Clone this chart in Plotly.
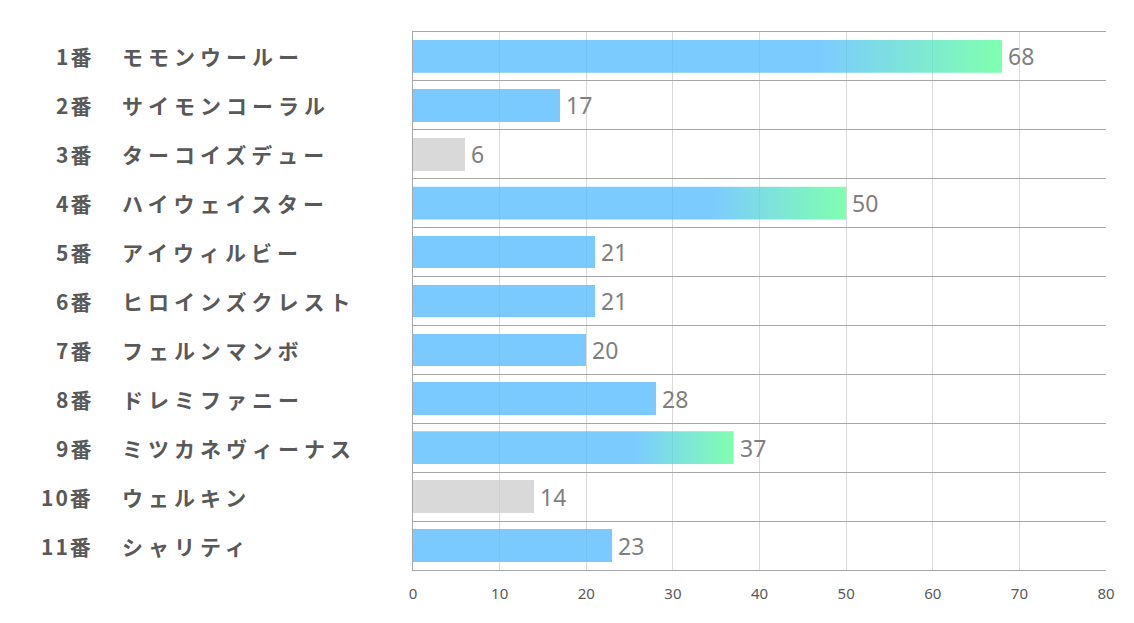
import plotly.graph_objects as go

numbers = ["1番", "2番", "3番", "4番", "5番", "6番", "7番", "8番", "9番", "10番", "11番"]
names = ["モモンウールー", "サイモンコーラル", "ターコイズデュー", "ハイウェイスター", "アイウィルビー",
         "ヒロインズクレスト", "フェルンマンボ", "ドレミファニー", "ミツカネヴィーナス", "ウェルキン", "シャリティ"]
values = [68, 17, 6, 50, 21, 21, 20, 28, 37, 14, 23]
gray_idx = [2, 9]          # greyed-out entries
top_n = 3                  # entries drawn with a gradient

BLUE = "rgb(91,190,255)"
GREEN = "rgb(96,255,156)"
GRAY = "rgb(208,208,208)"
OPACITY = 0.8
BAR_W = 0.67

order = sorted(range(len(values)), key=lambda i: -values[i])
grad_idx = order[:top_n]

ys = list(range(len(values)))
bar_colors = []
for i in ys:
    if i in grad_idx:
        bar_colors.append("rgba(0,0,0,0)")
    elif i in gray_idx:
        bar_colors.append(GRAY)
    else:
        bar_colors.append(BLUE)

fig = go.Figure()
fig.add_trace(go.Bar(
    x=values, y=ys, orientation="h", width=BAR_W,
    marker=dict(color=bar_colors, line=dict(width=0)), opacity=OPACITY,
    hoverinfo="skip", showlegend=False,
))

for i in grad_idx:
    v = values[i]
    y0, y1 = i - BAR_W / 2, i + BAR_W / 2
    fig.add_trace(go.Scatter(
        x=[0, v, v, 0, 0], y=[y0, y0, y1, y1, y0],
        mode="lines", line=dict(width=0), fill="toself",
        fillgradient=dict(type="horizontal", start=0, stop=v,
                          colorscale=[[0, BLUE], [0.69, BLUE], [1, GREEN]]),
        opacity=OPACITY, hoverinfo="skip", showlegend=False,
    ))

label_font = dict(family="Noto Sans CJK JP", size=21, color="#595959", weight="bold")
annotations = []
for i in ys:
    annotations.append(dict(
        x=0, xref="paper", y=i, yref="y", xanchor="right", yanchor="middle",
        xshift=-318, showarrow=False, font=label_font,
        text=f'<span style="letter-spacing:2px">{numbers[i]}</span>',
    ))
    annotations.append(dict(
        x=0, xref="paper", y=i, yref="y", xanchor="left", yanchor="middle",
        xshift=-293, showarrow=False, font=label_font,
        text=f'<span style="letter-spacing:5px">{names[i]}</span>',
    ))
    annotations.append(dict(
        x=values[i], xref="x", y=i, yref="y", xanchor="left", yanchor="middle",
        xshift=4, showarrow=False,
        font=dict(family="Noto Sans", size=23, color="#7f7f7f"),
        text=str(values[i]),
    ))

fig.update_layout(
    width=1134, height=623,
    margin=dict(l=405, r=36, t=24, b=61),
    paper_bgcolor="white", plot_bgcolor="white",
    annotations=annotations,
    bargap=0,
    xaxis=dict(
        range=[0, 80], dtick=10, tick0=0, showgrid=True, gridcolor="#d9d9d9", gridwidth=1,
        zeroline=False, showline=True, mirror=True, linecolor="#a6a6a6", linewidth=1,
        ticks="", ticklabelstandoff=10,
        tickfont=dict(family="Noto Sans", size=15, color="#595959"),
    ),
    yaxis=dict(
        range=[len(values) - 0.5, -0.5], tick0=0.5, dtick=1, showgrid=True,
        gridcolor="#a6a6a6", gridwidth=1, zeroline=False, showticklabels=False,
        showline=True, linecolor="#a6a6a6", linewidth=1, ticks="",
    ),
)

fig.write_html("out.html")
